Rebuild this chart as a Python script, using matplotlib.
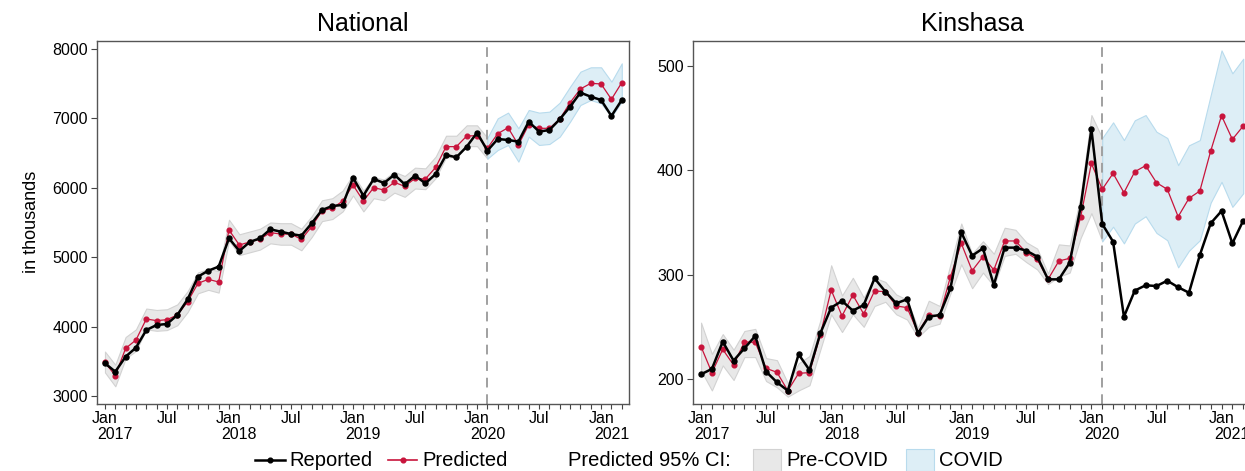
import numpy as np
import matplotlib
matplotlib.use("Agg")
from matplotlib import pyplot as plt
from matplotlib.lines import Line2D
from matplotlib.patches import Rectangle

plt.rcParams['font.family'] = ['Liberation Sans', 'DejaVu Sans']

# Months: Jan 2017 (0) ... Mar 2021 (50); COVID period starts Feb 2020 (37)
months = np.arange(51)
covid_start = 37
tick_months = [0, 6, 12, 18, 24, 30, 36, 42, 48]
tick_names = ["Jan", "Jul", "Jan", "Jul", "Jan", "Jul", "Jan", "Jul", "Jan"]
year_months = [1, 13, 25, 37, 49]
year_names = ["2017", "2018", "2019", "2020", "2021"]

# National (in thousands)
nat_reported = [3471, 3351, 3567, 3697, 3951, 4023, 4038, 4167, 4393, 4720, 4806, 4864,
                5272, 5089, 5219, 5272, 5402, 5368, 5334, 5310, 5488, 5680, 5738, 5752,
                6146, 5887, 6127, 6069, 6189, 6050, 6175, 6064, 6199, 6473, 6439, 6593,
                6794, 6535, 6703, 6689, 6665, 6953, 6809, 6833, 6987, 7169, 7371, 7313,
                7265, 7035, 7265]
nat_predicted = [3485, 3293, 3687, 3807, 4110, 4086, 4100, 4167, 4359, 4624, 4681, 4643,
                 5392, 5176, 5219, 5262, 5354, 5334, 5334, 5257, 5440, 5671, 5704, 5810,
                 6040, 5810, 6002, 5968, 6079, 6021, 6136, 6127, 6295, 6593, 6593, 6746,
                 6751, 6569, 6780, 6866, 6617, 6910, 6857, 6857, 6987, 7227, 7424, 7505,
                 7496, 7275, 7515]
nat_ci_low = [3340, 3140, 3540, 3650, 3960, 3940, 3950, 4020, 4210, 4480, 4530, 4490,
              5240, 5030, 5070, 5110, 5200, 5180, 5180, 5100, 5290, 5520, 5550, 5660,
              5890, 5660, 5850, 5820, 5930, 5870, 5990, 5980, 6140, 6440, 6440, 6600,
              6600, 6420, 6545, 6617, 6377, 6737, 6617, 6631, 6737, 6953, 7193, 7265,
              7217, 7025, 7241]
nat_ci_high = [3640, 3450, 3850, 3960, 4260, 4240, 4250, 4320, 4510, 4780, 4830, 4800,
               5540, 5330, 5370, 5410, 5500, 5490, 5490, 5410, 5590, 5820, 5850, 5960,
               6190, 5960, 6150, 6120, 6230, 6170, 6290, 6280, 6450, 6750, 6750, 6900,
               6900, 6720, 7001, 7083, 6857, 7121, 7083, 7097, 7227, 7457, 7673, 7736,
               7736, 7529, 7793]

# Kinshasa (in thousands)
kin_reported = [204.5, 209.6, 235.8, 217.6, 229.4, 241.2, 207, 196.8, 188.8, 223.6, 208.6, 243.8,
                268.4, 274.8, 265.5, 270.9, 296.5, 283.7, 272.5, 276.4, 243.8, 259.7, 261.3, 286.9,
                340.6, 318.2, 325.2, 290.1, 325.9, 325.9, 323, 317.3, 295.5, 295.5, 311.5, 364.5,
                439.6, 348.6, 331.6, 259.7, 284.7, 289.8, 289.1, 294.2, 287.9, 282.7, 318.8, 349.2,
                361, 330, 351.8]
kin_predicted = [231, 206, 228.4, 213.4, 235.5, 235.1, 210.2, 206.4, 188.8, 205.4, 206.1, 242.2,
                 285.3, 260.4, 280.5, 262.3, 284.3, 283.7, 270, 268.4, 244.4, 261.3, 260.4, 298,
                 330, 303.8, 317.3, 304.5, 332.3, 332.3, 321.1, 314.7, 295.5, 313.1, 315.7, 355,
                 406.7, 381.8, 397.1, 378.6, 398.7, 404.5, 388.2, 381.8, 355.6, 373.2, 380.2, 418.5,
                 452.4, 429.7, 442.5]
kin_ci_low = [208, 189, 213, 199, 221, 221, 198, 192, 183, 189, 194, 228,
              262, 245, 262, 250, 270, 274, 262, 257, 240, 250, 253, 282,
              310, 287, 302, 289, 318, 320, 312, 305, 291, 298, 302, 335,
              359, 332, 346, 330, 349, 356, 340, 333, 307, 323, 333, 369,
              389, 365, 378]
kin_ci_high = [254, 224, 243, 228, 246, 248, 220, 218, 196, 215, 222, 256,
               309, 280, 297, 278, 297, 293, 281, 276, 249, 275, 270, 310,
               349, 320, 332, 320, 345, 343, 331, 325, 301, 329, 328, 375,
               453, 431, 446, 429, 448, 453, 437, 431, 405, 424, 429, 472,
               515, 493, 507]

RED = "#c8143c"
GREY_FILL, GREY_EDGE = "#e8e8e8", "#d2d2d2"
BLUE_FILL, BLUE_EDGE = "#ddeef6", "#b8dbed"

W, H = 1245, 471
fig = plt.figure(figsize=(W / 100, H / 100), dpi=100)


def draw_panel(ax, reported, predicted, lo, hi, yticks, ylim):
    lo = np.array(lo, dtype=float)
    hi = np.array(hi, dtype=float)
    pre = months <= covid_start
    post = months >= covid_start
    ax.fill_between(months[pre], lo[pre], hi[pre], facecolor=GREY_FILL,
                    edgecolor=GREY_EDGE, lw=0.8, zorder=1)
    ax.fill_between(months[post], lo[post], hi[post], facecolor=BLUE_FILL,
                    edgecolor=BLUE_EDGE, lw=0.8, zorder=1)
    ax.axvline(covid_start, color="#a0a0a0", lw=1.4, ls=(0, (5, 3.5)), zorder=2)
    ax.plot(months, reported, color="black", lw=1.8, marker="o", ms=3.6, zorder=4)
    ax.plot(months, predicted, color=RED, lw=0.9, marker="o", ms=3.4, zorder=3)

    ax.set_xlim(-0.77, 50.7)
    ax.set_ylim(*ylim)
    ax.set_yticks(yticks)
    ax.set_yticklabels([str(v) for v in yticks], fontsize=11.5)
    labels = [""] * len(months)
    for m, name in zip(tick_months, tick_names):
        labels[m] = name
    ax.set_xticks(months)
    ax.set_xticklabels(labels, fontsize=11.5)
    ax.tick_params(axis="x", length=3.5, width=0.8, pad=1.5, color="#444444")
    ax.tick_params(axis="y", length=4, width=0.8, pad=2.5, color="#444444")
    for m, name in zip(year_months, year_names):
        ax.text(m, -0.083, name, transform=ax.get_xaxis_transform(),
                ha="center", va="center", fontsize=11.5)
    for s in ax.spines.values():
        s.set_color("#555555")
        s.set_linewidth(1.0)


ax1 = fig.add_axes([97 / W, 1 - 404 / H, (629 - 97) / W, (404 - 41) / H])
draw_panel(ax1, nat_reported, nat_predicted, nat_ci_low, nat_ci_high,
           [3000, 4000, 5000, 6000, 7000, 8000], (2885, 8115))

ax2 = fig.add_axes([692.7 / W, 1 - 404 / H, (1250.8 - 692.7) / W, (404 - 41) / H])
draw_panel(ax2, kin_reported, kin_predicted, kin_ci_low, kin_ci_high,
           [200, 300, 400, 500], (176, 524))

fig.text(362.5 / W, 1 - 24 / H, "National", ha="center", va="center", fontsize=18)
fig.text(972 / W, 1 - 24 / H, "Kinshasa", ha="center", va="center", fontsize=18)
fig.text(31 / W, 1 - 222 / H, "in thousands", rotation=90, ha="center", va="center",
         fontsize=13)

# Legend along the bottom
ly = 1 - 460 / H
fig.add_artist(Line2D([255 / W, 285 / W], [ly, ly], color="black", lw=1.8))
fig.add_artist(Line2D([270 / W], [ly], color="black", marker="o", ms=3.4, lw=0))
fig.text(289 / W, ly, "Reported", ha="left", va="center", fontsize=14.5)
fig.add_artist(Line2D([388 / W, 417 / W], [ly, ly], color=RED, lw=1.2))
fig.add_artist(Line2D([402.5 / W], [ly], color=RED, marker="o", ms=3.4, lw=0))
fig.text(422 / W, ly, "Predicted", ha="left", va="center", fontsize=14.5)
fig.text(568 / W, ly, "Predicted 95% CI:", ha="left", va="center", fontsize=14.5)
fig.add_artist(Rectangle((753 / W, 1 - 471 / H), 28 / W, 22 / H, transform=fig.transFigure,
                         facecolor=GREY_FILL, edgecolor=GREY_EDGE, lw=0.8))
fig.text(786 / W, ly, "Pre-COVID", ha="left", va="center", fontsize=14.5)
fig.add_artist(Rectangle((906 / W, 1 - 471 / H), 28 / W, 22 / H, transform=fig.transFigure,
                         facecolor=BLUE_FILL, edgecolor=BLUE_EDGE, lw=0.8))
fig.text(939 / W, ly, "COVID", ha="left", va="center", fontsize=14.5)

fig.savefig("out.png", dpi=100)
